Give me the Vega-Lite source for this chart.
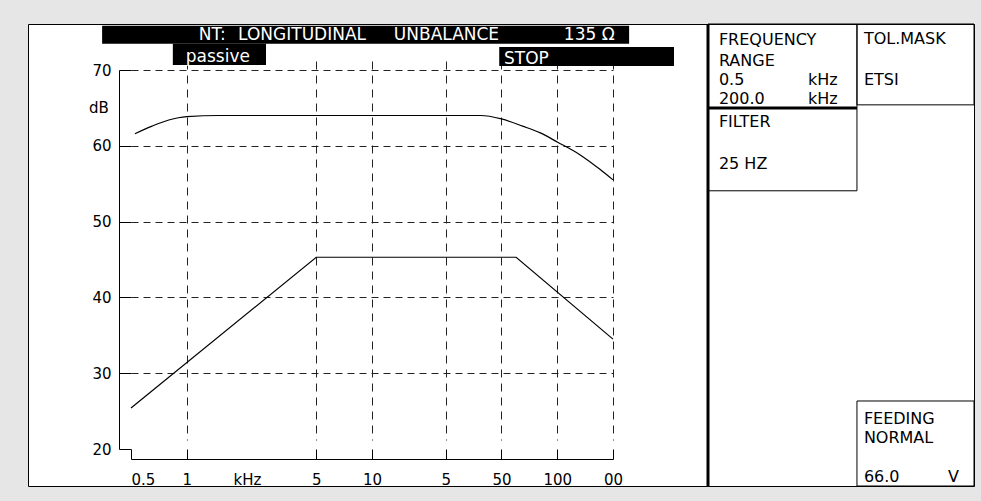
{
  "$schema": "https://vega.github.io/schema/vega-lite/v6.json",
  "background": "#e6e6e6",
  "padding": {"left": 27, "top": 22, "right": 8, "bottom": 17},
  "bounds": "flush",
  "spacing": 0,
  "config": {"font": "DejaVu Sans"},
  "datasets": {
    "curves": [
      {"series": "measured", "f": 0.525, "dB": 61.6},
      {"series": "measured", "f": 0.65, "dB": 62.6},
      {"series": "measured", "f": 0.8, "dB": 63.4},
      {"series": "measured", "f": 1, "dB": 63.85},
      {"series": "measured", "f": 1.5, "dB": 64.0},
      {"series": "measured", "f": 38.6, "dB": 64.0},
      {"series": "measured", "f": 50, "dB": 63.55},
      {"series": "measured", "f": 65, "dB": 62.6},
      {"series": "measured", "f": 81, "dB": 61.7},
      {"series": "measured", "f": 100, "dB": 60.5},
      {"series": "measured", "f": 133, "dB": 58.8},
      {"series": "measured", "f": 170, "dB": 56.9},
      {"series": "measured", "f": 200, "dB": 55.5},
      {"series": "mask", "f": 0.5, "dB": 25.4},
      {"series": "mask", "f": 5, "dB": 45.3},
      {"series": "mask", "f": 60, "dB": 45.3},
      {"series": "mask", "f": 200, "dB": 34.5}
    ],
    "bars": [
      {"bar": "title", "x0": 0.109, "x1": 0.884, "y0": 0.004, "y1": 0.043},
      {"bar": "mode", "x0": 0.213, "x1": 0.35, "y0": 0.043, "y1": 0.089},
      {"bar": "status", "x0": 0.693, "x1": 0.95, "y0": 0.05, "y1": 0.091}
    ],
    "barText": [
      {"text": "NT:", "x": 0.251, "y": 0.034},
      {"text": "LONGITUDINAL", "x": 0.309, "y": 0.034},
      {"text": "UNBALANCE", "x": 0.538, "y": 0.034},
      {"text": "135 Ω", "x": 0.788, "y": 0.034},
      {"text": "passive", "x": 0.232, "y": 0.082},
      {"text": "STOP", "x": 0.7, "y": 0.087}
    ],
    "boxes": [
      {"box": "frequency", "x0": 0, "x1": 0.56, "y0": 0, "y1": 0.182},
      {"box": "tolmask", "x0": 0.56, "x1": 1, "y0": 0, "y1": 0.175},
      {"box": "filter", "x0": 0, "x1": 0.56, "y0": 0.182, "y1": 0.361},
      {"box": "feeding", "x0": 0.56, "x1": 1, "y0": 0.816, "y1": 1}
    ],
    "edges": [
      {"edge": "panel border", "x0": 0, "x1": 0, "y0": 0, "y1": 1},
      {"edge": "range bottom", "x0": 0, "x1": 0.56, "y0": 0.182, "y1": 0.182}
    ],
    "panelText": [
      {"text": "FREQUENCY", "x": 0.041, "y": 0.045},
      {"text": "RANGE", "x": 0.041, "y": 0.091},
      {"text": "0.5", "x": 0.041, "y": 0.132},
      {"text": "kHz", "x": 0.376, "y": 0.132},
      {"text": "200.0", "x": 0.041, "y": 0.173},
      {"text": "kHz", "x": 0.376, "y": 0.173},
      {"text": "TOL.MASK", "x": 0.586, "y": 0.043},
      {"text": "ETSI", "x": 0.586, "y": 0.132},
      {"text": "FILTER", "x": 0.041, "y": 0.223},
      {"text": "25 HZ", "x": 0.041, "y": 0.314},
      {"text": "FEEDING", "x": 0.586, "y": 0.865},
      {"text": "NORMAL", "x": 0.586, "y": 0.908},
      {"text": "66.0", "x": 0.586, "y": 0.991},
      {"text": "V", "x": 0.902, "y": 0.991}
    ]
  },
  "hconcat": [
    {
      "width": 680,
      "height": 462,
      "view": {"fill": "white", "stroke": "black", "strokeWidth": 1},
      "layer": [
        {
          "data": {"name": "curves"},
          "transform": [{"filter": "datum.series == 'mask'"}],
          "mark": {"type": "line", "color": "black", "strokeWidth": 1.2},
          "encoding": {
            "x": {
              "field": "f", "type": "quantitative",
              "scale": {"type": "log", "domain": [0.5, 200], "range": [103, 585], "nice": false},
              "axis": {
                "orient": "bottom", "offset": -27,
                "values": [0.5, 1, 5, 10, 25, 50, 100, 200],
                "labelExpr": "datum.value == 25 ? '\u20075' : datum.value == 200 ? '\u200700' : format(datum.value, '~g')",
                "labelAlign": {"condition": {"test": "datum.value < 0.7", "value": "left"}, "value": "center"},
                "labelFlush": false, "labelOverlap": false, "labelBound": false,
                "labelFont": "DejaVu Sans", "labelFontSize": 15, "labelColor": "black", "labelPadding": 23,
                "tickSize": -10, "tickColor": "black", "tickWidth": 1,
                "domainColor": "black", "domainWidth": 1,
                "grid": true, "gridColor": "#222", "gridDash": [8, 6], "gridWidth": 1,
                "gridOpacity": {"condition": {"test": "datum.value < 0.7", "value": 0}, "value": 1},
                "title": "kHz", "titleX": 219, "titleY": 25, "titleAlign": "center", "titleBaseline": "alphabetic",
                "titleFont": "DejaVu Sans", "titleFontSize": 15, "titleFontWeight": "normal", "titleColor": "black"
              }
            },
            "y": {
              "field": "dB", "type": "quantitative",
              "scale": {"domain": [20, 70], "range": [425, 46], "nice": false, "zero": false},
              "axis": {
                "orient": "left", "offset": -91,
                "values": [20, 30, 40, 50, 60, 70],
                "tickSize": -12, "tickColor": "black", "tickWidth": 1,
                "domainColor": "black", "domainWidth": 1,
                "labelFont": "DejaVu Sans", "labelFontSize": 15, "labelColor": "black", "labelPadding": 20,
                "labelFlush": false, "labelOverlap": false, "labelBound": false,
                "grid": true, "gridColor": "#222", "gridDash": [7, 5], "gridWidth": 1,
                "gridOpacity": {"condition": {"test": "datum.value < 25", "value": 0}, "value": 1},
                "title": "dB", "titleAngle": 0, "titleX": -20.5, "titleY": 83, "titleAlign": "center", "titleBaseline": "middle",
                "titleFont": "DejaVu Sans", "titleFontSize": 15, "titleFontWeight": "normal", "titleColor": "black"
              }
            }
          }
        },
        {
          "data": {"name": "curves"},
          "transform": [{"filter": "datum.series == 'measured'"}],
          "mark": {"type": "line", "color": "black", "strokeWidth": 1.2, "interpolate": "monotone"},
          "encoding": {
            "x": {"field": "f", "type": "quantitative", "scale": {"type": "log", "domain": [0.5, 200], "range": [103, 585], "nice": false}, "axis": null},
            "y": {"field": "dB", "type": "quantitative", "scale": {"domain": [20, 70], "range": [425, 46], "nice": false, "zero": false}, "axis": null}
          }
        },
        {
          "data": {"name": "bars"},
          "mark": {"type": "rect", "color": "black"},
          "encoding": {
            "x": {"field": "x0", "type": "quantitative", "scale": {"domain": [0, 1], "nice": false, "zero": false}, "axis": null},
            "x2": {"field": "x1"},
            "y": {"field": "y0", "type": "quantitative", "scale": {"domain": [0, 1], "reverse": true, "nice": false, "zero": false}, "axis": null},
            "y2": {"field": "y1"}
          }
        },
        {
          "data": {"name": "barText"},
          "mark": {"type": "text", "color": "white", "font": "DejaVu Sans", "fontSize": 17, "align": "left", "baseline": "alphabetic"},
          "encoding": {
            "x": {"field": "x", "type": "quantitative", "scale": {"domain": [0, 1], "nice": false, "zero": false}, "axis": null},
            "y": {"field": "y", "type": "quantitative", "scale": {"domain": [0, 1], "reverse": true, "nice": false, "zero": false}, "axis": null},
            "text": {"field": "text"}
          }
        }
      ],
      "resolve": {"scale": {"x": "independent", "y": "independent"}}
    },
    {
      "width": 266,
      "height": 462,
      "view": {"fill": "white", "stroke": "black", "strokeWidth": 1},
      "layer": [
        {
          "data": {"name": "boxes"},
          "mark": {"type": "rect", "filled": false, "color": "black", "strokeWidth": 1},
          "encoding": {
            "x": {"field": "x0", "type": "quantitative", "scale": {"domain": [0, 1], "nice": false, "zero": false}, "axis": null},
            "x2": {"field": "x1"},
            "y": {"field": "y0", "type": "quantitative", "scale": {"domain": [0, 1], "reverse": true, "nice": false, "zero": false}, "axis": null},
            "y2": {"field": "y1"}
          }
        },
        {
          "data": {"name": "edges"},
          "mark": {"type": "rule", "color": "black", "strokeWidth": 3},
          "encoding": {
            "x": {"field": "x0", "type": "quantitative", "scale": {"domain": [0, 1], "nice": false, "zero": false}, "axis": null},
            "x2": {"field": "x1"},
            "y": {"field": "y0", "type": "quantitative", "scale": {"domain": [0, 1], "reverse": true, "nice": false, "zero": false}, "axis": null},
            "y2": {"field": "y1"}
          }
        },
        {
          "data": {"name": "panelText"},
          "mark": {"type": "text", "color": "black", "font": "DejaVu Sans", "fontSize": 16, "align": "left", "baseline": "alphabetic"},
          "encoding": {
            "x": {"field": "x", "type": "quantitative", "scale": {"domain": [0, 1], "nice": false, "zero": false}, "axis": null},
            "y": {"field": "y", "type": "quantitative", "scale": {"domain": [0, 1], "reverse": true, "nice": false, "zero": false}, "axis": null},
            "text": {"field": "text"}
          }
        }
      ]
    }
  ]
}
